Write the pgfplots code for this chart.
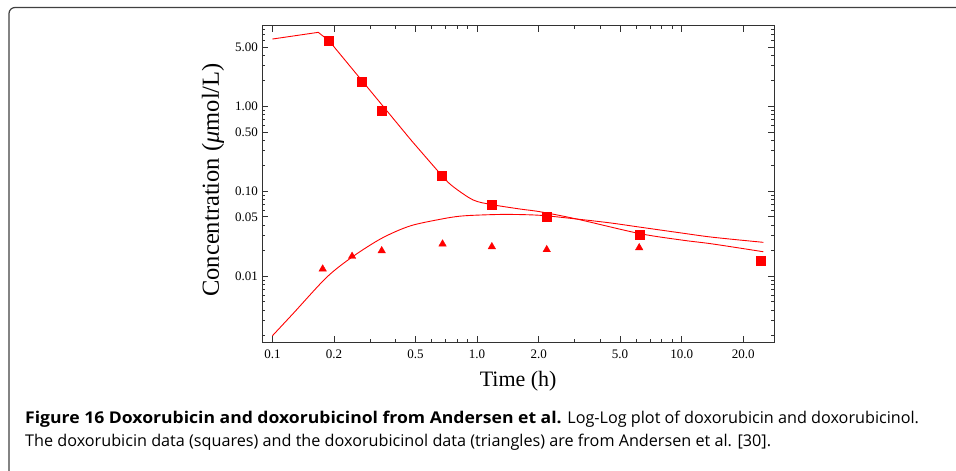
\documentclass[border=0pt]{standalone}
\usepackage{fontspec}
\usepackage{pgfplots}
\pgfplotsset{compat=1.18}
\setmainfont{Liberation Serif}
\newfontfamily\capfont{Open Sans}
\newfontfamily\capbold{Open Sans}[FakeStretch=1.085]
\definecolor{pred}{RGB}{255,0,0}
\definecolor{axgray}{RGB}{50,50,50}

\pgfplotstableread{
t c
0.1 6.19
0.1675 7.42
0.1894 5.87
0.475 0.402
}\doxcurveA

\pgfplotstableread{
t c
0.475 0.402
0.676 0.1514
0.765 0.1133
0.958 0.0790
1.187 0.0696
1.621 0.0619
2.03 0.0575
3.07 0.0472
6.20 0.0319
10.0 0.0267
14.2 0.0240
25.05 0.01946
}\doxcurveB

\pgfplotstableread{
t c
0.1 0.0020
0.1265 0.00367
0.184 0.00973
0.2466 0.01702
0.3418 0.0280
0.47 0.0391
0.671 0.0472
0.825 0.0510
1.033 0.0526
1.40 0.0535
2.03 0.0522
3.07 0.0472
4.47 0.0425
6.20 0.0380
10.0 0.0323
14.2 0.0288
25.05 0.0251
}\olcurve

\pgfplotstableread{
t c
0.189 5.91
0.274 1.95
0.3435 0.888
0.675 0.1526
1.185 0.0696
2.20 0.0508
6.20 0.0312
24.3 0.01514
}\doxdata

\pgfplotstableread{
t c
0.176 0.01219
0.245 0.01718
0.342 0.0200
0.678 0.0240
1.181 0.0223
2.19 0.0206
6.20 0.0217
24.3 0.0146
}\oldata

\begin{document}
\begin{tikzpicture}[x=1pt,y=1pt]
\useasboundingbox (0,0) rectangle (956,471);
\draw[black!75, line width=1.2pt, rounded corners=6pt] (9,-10) -- (9,463.5) -- (970,463.5);
\begin{axis}[
  at={(262.3pt,129pt)}, anchor=south west,
  scale only axis, width=511.7pt, height=316pt,
  xmode=log, ymode=log,
  xmin=0.0892, xmax=28.26, ymin=0.001687, ymax=8.81,
  axis line style={axgray, line width=1pt},
  tick style={axgray, line width=0.8pt},
  tick align=inside,
  major tick length=6pt, minor tick length=3pt,
  xtick={0.1,0.2,0.5,1,2,5,10,20},
  xticklabels={0.1,0.2,0.5,1.0,2.0,5.0,10.0,20.0},
  minor xtick={0.3,0.4,0.6,0.7,0.8,0.9,3,4,6,7,8,9},
  ytick={0.01,0.05,0.1,0.5,1,5},
  yticklabels={0.01,0.05,0.10,0.50,1.00,5.00},
  minor ytick={0.002,0.003,0.004,0.005,0.006,0.007,0.008,0.009,0.02,0.03,0.04,0.06,0.07,0.08,0.09,0.2,0.3,0.4,0.6,0.7,0.8,0.9,2,3,4,6,7,8},
  tick label style={font=\fontsize{13}{13}\selectfont},
  xticklabel style={yshift=-4pt},
  yticklabel style={xshift=-1pt},
  xlabel={Time (h)},
  ylabel={Concentration (\textit{μ}mol/L)},
  xlabel style={font=\fontsize{22}{22}\selectfont, yshift=-6pt},
  ylabel style={font=\fontsize{24.5}{24.5}\selectfont, at={(ticklabel cs:0.513)}, yshift=4pt},
]
\addplot[pred, line width=0.9pt, no marks] table[x=t,y=c]{\doxcurveA};
\addplot[pred, line width=0.9pt, no marks, smooth] table[x=t,y=c]{\doxcurveB};
\addplot[pred, line width=0.9pt, no marks, smooth] table[x=t,y=c]{\olcurve};
\addplot[only marks, mark=square*, mark size=4.5pt, pred, mark options={draw=pred, fill=pred}] table[x=t,y=c]{\doxdata};
\addplot[only marks, mark=triangle*, mark size=4.3pt, pred, mark options={draw=pred, fill=pred}] table[x=t,y=c]{\oldata};
\end{axis}
\node[anchor=base west, inner sep=0pt, font=\capfont\fontsize{16.2}{16.2}\selectfont] at (25,47.7) {{\capbold\bfseries Figure 16 Doxorubicin and doxorubicinol from Andersen et al.} Log-Log plot of doxorubicin and doxorubicinol.};
\node[anchor=base west, inner sep=0pt, font=\capfont\fontsize{16.2}{16.2}\selectfont] at (25,24.3) {The doxorubicin data (squares) and the doxorubicinol data (triangles) are from Andersen et al. [30].};
\end{tikzpicture}
\end{document}
